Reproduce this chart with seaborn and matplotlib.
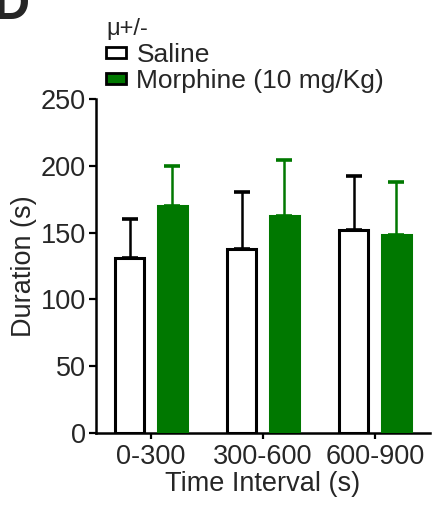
import pandas as pd
import numpy as np
import matplotlib
matplotlib.use("Agg")
import matplotlib.pyplot as plt
import seaborn as sns

sns.set_style("ticks")
plt.rcParams['font.family'] = ['Liberation Sans', 'DejaVu Sans']

intervals = ['0-300', '300-600', '600-900']
groups = ['Saline', 'Morphine (10 mg/Kg)']
saline_mean = [131, 138, 152]
saline_sem = [29, 42, 40]
morphine_mean = [170, 162, 148]
morphine_sem = [30, 42, 40]

green = '#007800'
edge = {'Saline': 'black', 'Morphine (10 mg/Kg)': green}
fill = {'Saline': 'white', 'Morphine (10 mg/Kg)': green}

df = pd.DataFrame({
    'interval': intervals * 2,
    'group': [groups[0]] * 3 + [groups[1]] * 3,
    'mean': saline_mean + morphine_mean,
    'sem': saline_sem + morphine_sem,
})

fig = plt.figure(figsize=(4.42, 5.07), dpi=100)
ax = fig.add_axes([0.217, 0.146, 0.756, 0.659])

sns.barplot(data=df, x='interval', y='mean', hue='group', hue_order=groups,
            order=intervals, palette=fill, saturation=1, errorbar=None,
            width=0.76, gap=0.32, linewidth=2.2, ax=ax, zorder=3)

for cont, g in zip(ax.containers, groups):
    sub = df[df['group'] == g].set_index('interval').loc[intervals]
    xs = [p.get_x() + p.get_width() / 2 for p in cont]
    for p in cont:
        p.set_edgecolor(edge[g])
    ax.errorbar(xs, sub['mean'], yerr=[np.zeros(len(xs)), sub['sem']], fmt='none',
                ecolor=edge[g], elinewidth=1.8, capsize=5.6, capthick=2.6, zorder=2)

ax.set_ylim(0, 250)
ax.set_xlim(-0.49, 2.49)
ax.set_yticks([0, 50, 100, 150, 200, 250])
ax.set_ylabel('Duration (s)', fontsize=19.5, labelpad=3)
ax.set_xlabel('Time Interval (s)', fontsize=19.5, labelpad=1)
ax.tick_params(axis='both', labelsize=19.5, width=1.6, color='black')
ax.tick_params(axis='y', length=5, pad=2)
ax.tick_params(axis='x', length=4, pad=4)
for s in ['left', 'bottom']:
    ax.spines[s].set_linewidth(1.8)
    ax.spines[s].set_color('black')
sns.despine(ax=ax)

handles, labels = ax.get_legend_handles_labels()
for h in handles:
    h.set_edgecolor('black')
    h.set_linewidth(2.0)
ax.legend(handles, labels, title='\u03bc+/-', loc='upper left',
          bbox_to_anchor=(0.222, 0.98), bbox_transform=fig.transFigure,
          frameon=False, fontsize=19, title_fontsize=17, alignment='left',
          handlelength=0.75, handleheight=0.25, handletextpad=0.4,
          labelspacing=0.1, borderaxespad=0.1, borderpad=0.2)

fig.text(-0.015, 0.963, 'D', fontsize=36, fontweight='bold', ha='left', va='baseline')

fig.savefig('out.png', dpi=100)
